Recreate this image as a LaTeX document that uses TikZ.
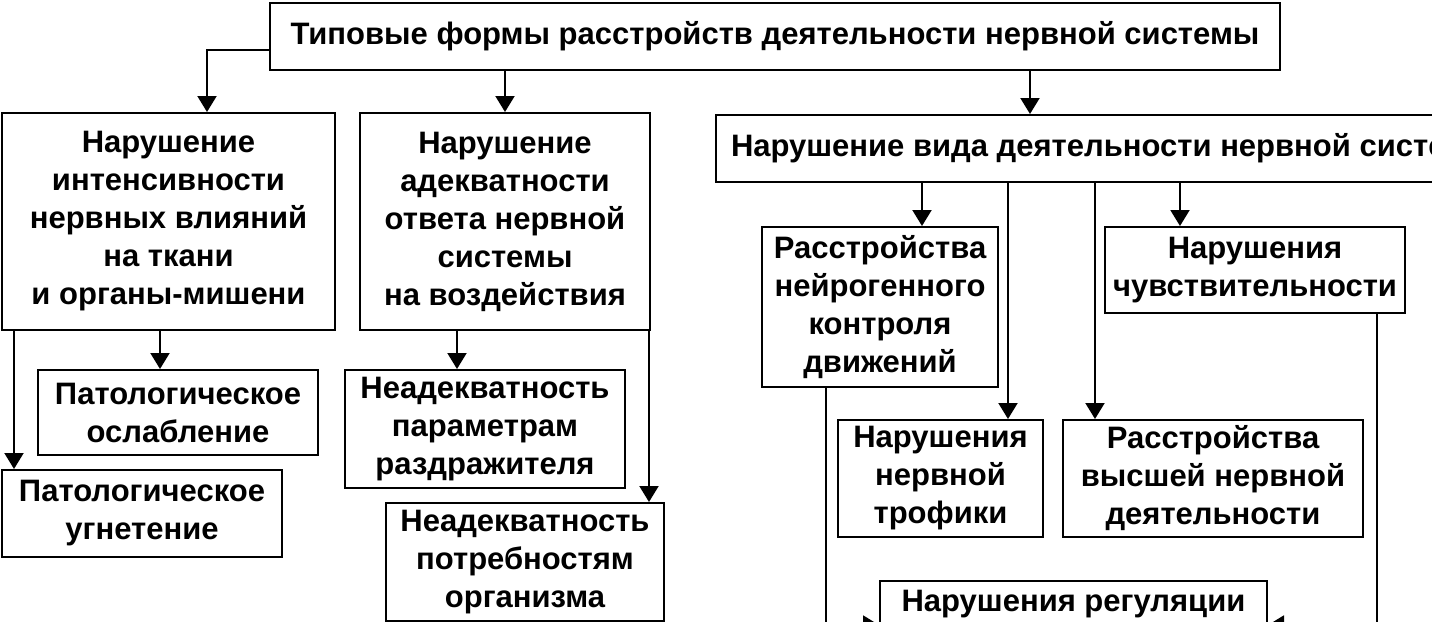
\documentclass[tikz,border=0pt]{standalone}
\usepackage{fontspec}
\setmainfont{Liberation Sans}
\usetikzlibrary{arrows.meta,positioning}

\begin{document}
\begin{tikzpicture}[x=0.5pt,y=-0.5pt,
      font=\fontsize{15.5}{19}\selectfont\bfseries,
      box/.style={draw,line width=1pt,align=center,inner sep=0pt},
      arr/.style={-{Triangle[length=8pt,width=9.5pt]},line width=1pt},
      link/.style={line width=1pt}]
    \useasboundingbox (0,0) rectangle (1432,622);
    \clip (0,0) rectangle (1432,622);

    % TOP — the general heading
    \node[box,minimum width=505pt,minimum height=33.5pt] (top) at (775,36.5)
      {Типовые формы расстройств деятельности нервной системы};

    % SECOND ROW — three kinds of disturbance
    \node[box,minimum width=166.5pt,minimum height=108.5pt] (intens) at (168.5,221.5)
      {Нарушение\\интенсивности\\нервных влияний\\на ткани\\и органы-мишени};
    \node[box,minimum width=145pt,minimum height=108.5pt] (adeq) at (505,221.5)
      {Нарушение\\адекватности\\ответа нервной\\системы\\на воздействия};
    \node[box,anchor=west,inner xsep=7.5pt,minimum height=33.5pt] (vid) at (715,148.5)
      {Нарушение вида деятельности нервной системы};

    % LEFT — intensity and adequacy
    \node[box,minimum width=140pt,minimum height=42.5pt] (oslab) at (178,412.5)
      {Патологическое\\ослабление};
    \node[box,minimum width=140pt,minimum height=43.5pt] (ugnet) at (142,513.5)
      {Патологическое\\угнетение};
    \node[box,minimum width=140pt,minimum height=59pt] (param) at (485,429)
      {Неадекватность\\параметрам\\раздражителя};
    \node[box,minimum width=139pt,minimum height=59pt] (potreb) at (525,562)
      {Неадекватность\\потребностям\\организма};

    % RIGHT — kind of activity
    \node[box,minimum width=118pt,minimum height=80pt] (motor) at (880,307)
      {Расстройства\\нейрогенного\\контроля\\движений};
    \node[box,minimum width=150pt,minimum height=43pt] (sens) at (1255,270)
      {Нарушения\\чувствительности};
    \node[box,minimum width=102.5pt,minimum height=58.5pt] (troph) at (940.5,478.5)
      {Нарушения\\нервной\\трофики};
    \node[box,minimum width=150pt,minimum height=58.5pt] (vnd) at (1213,478.5)
      {Расстройства\\высшей нервной\\деятельности};
    \node[box,minimum width=193.5pt,text height=15pt,text depth=29pt] (reg) at (1073.5,625)
      {Нарушения регуляции};

    % CONNECTORS
    \draw[arr] ([yshift=-6.75pt]top.west) -| ([xshift=19.25pt]intens.north);
    \draw[arr] (adeq.north |- top.south) -- (adeq.north);
    \draw[arr] ([xshift=127.5pt]top.south) -- ([xshift=127.5pt]top.south |- vid.north);

    \draw[arr] ([xshift=-9pt]oslab.north |- intens.south) -- ([xshift=-9pt]oslab.north);
    \draw[arr] ([xshift=6.5pt]ugnet.north west |- intens.south) -- ([xshift=6.5pt]ugnet.north west);
    \draw[arr] ([xshift=-14pt]param.north |- adeq.south) -- ([xshift=-14pt]param.north);
    \draw[arr] ([xshift=-8pt]potreb.north east |- adeq.south) -- ([xshift=-8pt]potreb.north east);

    \foreach \n/\dx in {motor/21pt,troph/33.75pt,vnd/-59pt,sens/-37.5pt}
      \draw[arr] ([xshift=\dx]\n.north |- vid.south) -- ([xshift=\dx]\n.north);

    \draw[arr] ([xshift=-27pt]motor.south) |- (reg.west);
    \draw[arr] ([xshift=61pt]sens.south) |- (reg.east);
  \end{tikzpicture}
\end{document}
